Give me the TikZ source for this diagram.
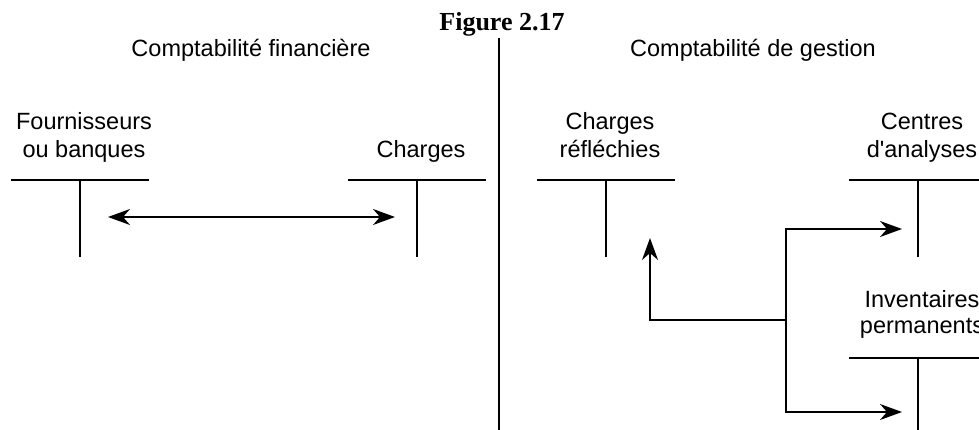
\documentclass[tikz,border=0pt]{standalone}
\usepackage{fontspec}
\setmainfont{Liberation Serif}
\newfontfamily\acctfont{Liberation Sans}
\usetikzlibrary{arrows.meta}

\begin{document}
\begin{tikzpicture}[
    x=1pt,
    y=-1pt,
    line width=1.4pt,
    acctlabel/.style={
        font=\acctfont\fontsize{23.5}{28}\selectfont,
        align=center,
        anchor=base,
        inner sep=0pt
    },
    figtitle/.style={
        font=\fontsize{26}{30}\selectfont\bfseries,
        anchor=base,
        inner sep=0pt
    },
    flow/.style={-{Stealth[length=22pt,width=16pt,inset=7pt]}},
    both/.style={{Stealth[length=22pt,width=16pt,inset=7pt]}-{Stealth[length=22pt,width=16pt,inset=7pt]}}
]

% Page frame (clips the labels cut at the right edge)
\clip (0,0) rectangle (979,430);

% Title and divider
\node[figtitle] (fig) at (502,31) {Figure 2.17};
\coordinate (divtop) at (499,38);
\coordinate (divbot) at (499,430);
\draw (divtop) -- (divbot);

\node[acctlabel] (fin) at (251,57) {Comptabilité financière};
\node[acctlabel] (ges) at (753,57) {Comptabilité de gestion};

% T-accounts: name / stem x / bar y / baseline of last label line / label
\foreach \acc/\sx/\sy/\ly/\txt in {fourn/80/180/158/{Fournisseurs\\ou banques},
    charges/417/180/158/{Charges},
    refl/606/180/158/{Charges\\réfléchies},
    centres/918/180/158/{Centres\\d'analyses},
    invent/918/358/333/{Inventaires\\[-2pt]permanents}}{
    \node[acctlabel] (\acc) at (\sx+4,\ly) {\txt};
    \path (\sx,\sy) coordinate (\acc-top) (\sx,\sy+77) coordinate (\acc-bot);
    \draw (\sx-69,\sy) -- (\sx+69,\sy);
    \draw (\acc-top) -- (\acc-bot);
}

% Financial side
\coordinate (fourn-in) at (108,217);
\coordinate (charges-in) at (395,217);
\draw[both] (fourn-in) -- (charges-in);

% Management side
\coordinate (split) at (786,320);
\coordinate (refl-in) at (650,238);
\coordinate (centres-in) at (902,229);
\coordinate (invent-in) at (902,412);
\draw[flow] (split) -| (refl-in);
\draw[flow] (split) |- (centres-in);
\draw[flow] (split) |- (invent-in);
\end{tikzpicture}
\end{document}
